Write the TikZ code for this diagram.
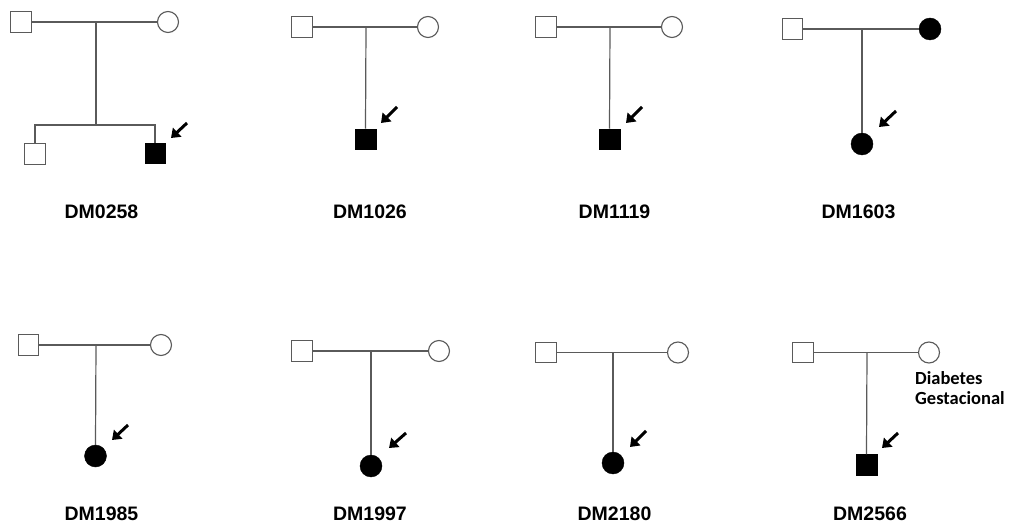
\documentclass[tikz,border=0pt]{standalone}
\usepackage{fontspec}
\setmainfont{Liberation Sans}
\newfontfamily\calfont{Carlito}
\usetikzlibrary{arrows.meta}
\definecolor{linegray}{HTML}{5A5A5A}
\tikzset{
  male/.style={draw=linegray, line width=1.1pt, fill=white, minimum size=20.5pt, inner sep=0pt, outer sep=0pt},
  female/.style={draw=linegray, line width=1.1pt, fill=white, circle, minimum size=21pt, inner sep=0pt, outer sep=0pt},
  affmale/.style={draw=black, fill=black, minimum size=20.5pt, inner sep=0pt, outer sep=0pt},
  afffemale/.style={draw=black, fill=black, circle, minimum size=22pt, inner sep=0pt, outer sep=0pt},
  rel/.style={draw=linegray, line width=1.2pt},
  proband/.style={draw=black, line width=3pt, -{Triangle[length=8.5pt,width=12pt]}},
  caselabel/.style={font=\bfseries\fontsize{19.5}{23}\selectfont, inner sep=0pt}
}
\begin{document}
\begin{tikzpicture}[x=1pt, y=-1pt]
\useasboundingbox (0,0) rectangle (1010,529);

% DM0258
\node[male] (f1) at (21,22) {};
\node[female] (m1) at (168,22) {};
\coordinate (u1) at (96,22);
\coordinate (s1) at (96,125);
\coordinate (s1l) at (35,125);
\coordinate (s1r) at (155,125);
\node[male] (c1a) at (35,154) {};
\node[affmale] (c1b) at (155,153) {};
\draw[rel] (f1) -- (m1);
\draw[rel] (u1) -- (s1);
\draw[rel] (c1a.north) -- (s1l) -- (s1r) -- (c1b.north);
\coordinate (a1s) at (187,123);
\coordinate (a1e) at (171,138);
\draw[proband] (a1s) -- (a1e);
\node[caselabel] (l1) at (101.5,212) {DM0258};

% DM1026
\node[male] (f2) at (302,27) {};
\node[female] (m2) at (428,27) {};
\coordinate (u2) at (366,27);
\node[affmale] (c2) at (365.5,139) {};
\draw[rel] (f2) -- (m2);
\draw[rel] (u2) -- (c2.north);
\coordinate (a2s) at (397,107);
\coordinate (a2e) at (381,123);
\draw[proband] (a2s) -- (a2e);
\node[caselabel] (l2) at (370,212) {DM1026};

% DM1119
\node[male] (f3) at (546,27) {};
\node[female] (m3) at (672,27) {};
\coordinate (u3) at (610,27);
\node[affmale] (c3) at (609.5,139) {};
\draw[rel] (f3) -- (m3);
\draw[rel] (u3) -- (c3.north);
\coordinate (a3s) at (642,107);
\coordinate (a3e) at (626,123);
\draw[proband] (a3s) -- (a3e);
\node[caselabel] (l3) at (614.5,212) {DM1119};

% DM1603
\node[male] (f4) at (792.5,29) {};
\node[afffemale] (m4) at (930,29) {};
\coordinate (u4) at (862,29);
\node[afffemale] (c4) at (862,144) {};
\draw[rel] (f4) -- (m4);
\draw[rel] (u4) -- (c4.north);
\coordinate (a4s) at (896,111);
\coordinate (a4e) at (879,127);
\draw[proband] (a4s) -- (a4e);
\node[caselabel] (l4) at (858.5,212) {DM1603};

% DM1985
\node[male] (f5) at (28.5,345) {};
\node[female] (m5) at (161,345) {};
\coordinate (u5) at (96,345);
\node[afffemale] (c5) at (95.5,456) {};
\draw[rel] (f5) -- (m5);
\draw[rel] (u5) -- (c5.north);
\coordinate (a5s) at (128,425);
\coordinate (a5e) at (112,440);
\draw[proband] (a5s) -- (a5e);
\node[caselabel] (l5) at (101.5,514) {DM1985};

% DM1997
\node[male] (f6) at (302,351) {};
\node[female] (m6) at (439,351) {};
\coordinate (u6) at (371,351);
\node[afffemale] (c6) at (371,466) {};
\draw[rel] (f6) -- (m6);
\draw[rel] (u6) -- (c6.north);
\coordinate (a6s) at (406,433);
\coordinate (a6e) at (389,448);
\draw[proband] (a6s) -- (a6e);
\node[caselabel] (l6) at (370,514) {DM1997};

% DM2180
\node[male] (f7) at (546,352.5) {};
\node[female] (m7) at (678,352.5) {};
\coordinate (u7) at (613,352.5);
\node[afffemale] (c7) at (613,463) {};
\draw[rel] (f7) -- (m7);
\draw[rel] (u7) -- (c7.north);
\coordinate (a7s) at (646,431);
\coordinate (a7e) at (630,447);
\draw[proband] (a7s) -- (a7e);
\node[caselabel] (l7) at (614.5,514) {DM2180};

% DM2566
\node[male] (f8) at (803,352.5) {};
\node[female] (m8) at (929,352.5) {};
\coordinate (u8) at (867,352.5);
\node[affmale] (c8) at (866.5,464.5) {};
\draw[rel] (f8) -- (m8);
\draw[rel] (u8) -- (c8.north);
\coordinate (a8s) at (898,433);
\coordinate (a8e) at (882,448);
\draw[proband] (a8s) -- (a8e);
\node[caselabel] (l8) at (870,514) {DM2566};
\node[anchor=base west, align=left, inner sep=0pt,
      font=\calfont\bfseries\fontsize{18.5}{20.5}\selectfont] (n8) at (915,405)
      {Diabetes\\Gestacional};
\end{tikzpicture}
\end{document}
